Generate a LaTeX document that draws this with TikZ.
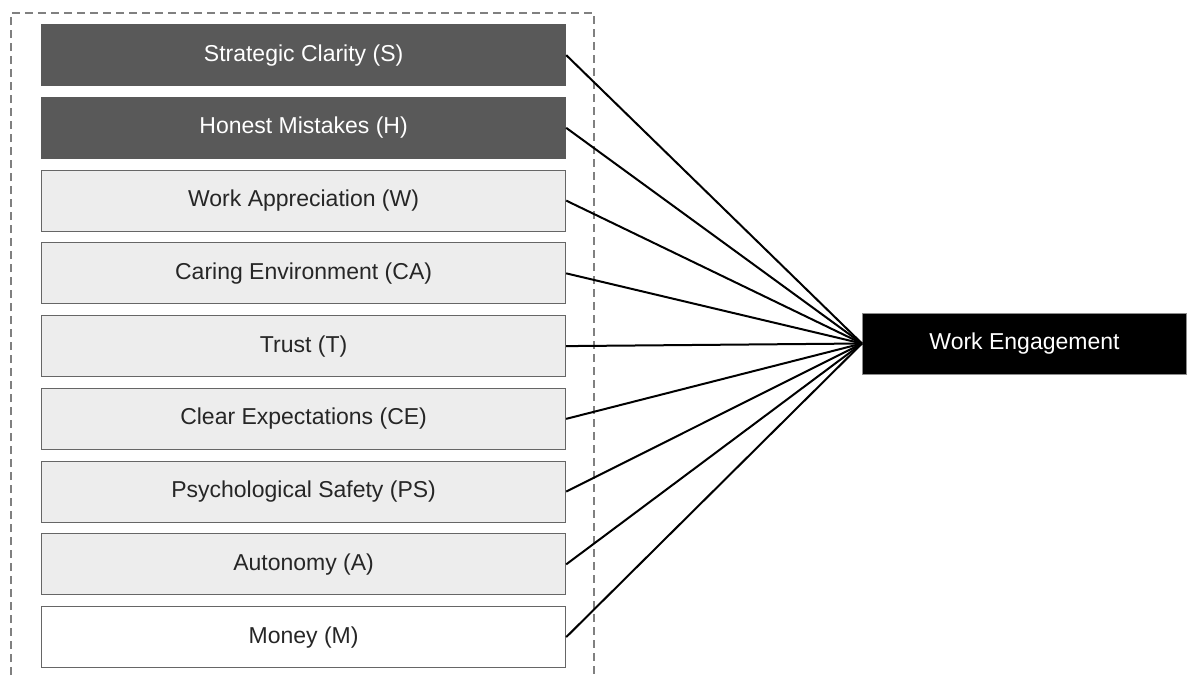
\documentclass[tikz,border=0pt]{standalone}
\usepackage{fontspec}
\setmainfont{Liberation Sans}
\begin{document}
\begin{tikzpicture}[x=1pt,y=-1pt,
  factor/.style={draw=black!60,line width=1.2pt,minimum width=524pt,minimum height=61pt,inner sep=0pt,font=\fontsize{23}{25}\selectfont,anchor=north west},
  darkbox/.style={factor,fill=black!65,draw=black!65,text=white},
  lightbox/.style={factor,fill=black!7,text=black!85},
  whitebox/.style={factor,fill=white,text=black!85},
  outbox/.style={draw=black!45,line width=1pt,fill=black,text=white,minimum width=324pt,minimum height=61pt,inner sep=0pt,font=\fontsize{23}{25}\selectfont,anchor=north west},
  link/.style={line width=2pt,black},
  frame/.style={draw=black!50,line width=1.2pt,dash pattern=on 8pt off 5pt}]
\useasboundingbox (0,0) rectangle (1189,675);
\draw[frame] (11,675) -- (11,13) -- (594,13) -- (594,675);
\node[darkbox] (S) at (41,24) {Strategic Clarity (S)};
\node[darkbox] (H) at (41,96.75) {Honest Mistakes (H)};
\node[lightbox] (W) at (41,169.5) {Work Appreciation (W)};
\node[lightbox] (CA) at (41,242.25) {Caring Environment (CA)};
\node[lightbox] (T) at (41,315) {Trust (T)};
\node[lightbox] (CE) at (41,387.75) {Clear Expectations (CE)};
\node[lightbox] (PS) at (41,460.5) {Psychological Safety (PS)};
\node[lightbox] (A) at (41,533.25) {Autonomy (A)};
\node[whitebox] (M) at (41,606) {Money (M)};
\node[outbox] (WE) at (862,312.5) {Work Engagement};
\foreach \n in {S,H,W,CA,T,CE,PS,A,M}
  \draw[link] (\n.east) -- (WE.west);
\end{tikzpicture}
\end{document}
